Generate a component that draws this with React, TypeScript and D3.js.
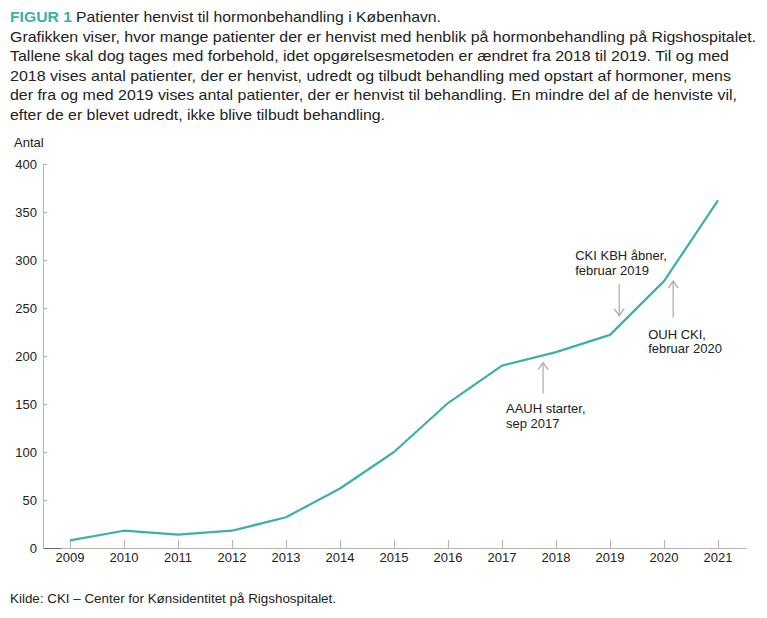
import React from "react";
import * as d3 from "d3";

const years = [2009, 2010, 2011, 2012, 2013, 2014, 2015, 2016, 2017, 2018, 2019, 2020, 2021];
const patients = [8, 18, 14, 18, 32, 62, 100, 151, 190, 204, 222, 278, 362];
const yTicks = [0, 50, 100, 150, 200, 250, 300, 350, 400];

const titleLines = [
  "Grafikken viser, hvor mange patienter der er henvist med henblik på hormonbehandling på Rigshospitalet.",
  "Tallene skal dog tages med forbehold, idet opgørelsesmetoden er ændret fra 2018 til 2019. Til og med",
  "2018 vises antal patienter, der er henvist, udredt og tilbudt behandling med opstart af hormoner, mens",
  "der fra og med 2019 vises antal patienter, der er henvist til behandling. En mindre del af de henviste vil,",
  "efter de er blevet udredt, ikke blive tilbudt behandling.",
];
const titleWidths = [746, 719, 721, 727, 375];

const annotations = [
  { x: 2017.76, from: 193, to: 161, lines: ["AAUH starter,", "sep 2017"], dir: "up", tx: -37, ty: 20 },
  { x: 2019.17, from: 275, to: 242, lines: ["CKI KBH åbner,", "februar 2019"], dir: "down", tx: -44, ty: -24 },
  { x: 2020.17, from: 240, to: 278, lines: ["OUH CKI,", "februar 2020"], dir: "up", tx: -25, ty: 21 },
];

const TEAL = "#3cb0aa";
const FONT = "'Liberation Sans', Arial, Helvetica, sans-serif";

export default function App() {
  const x = d3.scaleLinear().domain([2009, 2021]).range([70, 718]);
  const y = d3.scaleLinear().domain([0, 400]).range([548, 164]);
  const line = d3
    .line<number>()
    .x((_, i) => x(years[i]))
    .y((d) => y(d));

  return (
    <svg
      width={767}
      height={618}
      style={{ position: "absolute", left: 0, top: 0, background: "#fff" }}
      fontFamily={FONT}
    >
      {/* Title */}
      <text x={10} y={22} fontSize={15} fontWeight="bold" fill={TEAL} textLength={62} lengthAdjust="spacingAndGlyphs">
        FIGUR 1
      </text>
      <text x={76} y={22} fontSize={15} fill="#222" textLength={365} lengthAdjust="spacingAndGlyphs">
        Patienter henvist til hormonbehandling i København.
      </text>
      {titleLines.map((t, i) => (
        <text
          key={i}
          x={10}
          y={41.5 + i * 19.6}
          fontSize={15}
          fill="#222"
          textLength={titleWidths[i]}
          lengthAdjust="spacingAndGlyphs"
        >
          {t}
        </text>
      ))}

      {/* Y axis */}
      <text x={14} y={147} fontSize={13} fill="#222">Antal</text>
      <line x1={43.5} x2={43.5} y1={y(400)} y2={y(0)} stroke="#b5b5b5" strokeWidth={1} />
      {yTicks.map((t) => (
        <g key={t}>
          <line x1={43.5} x2={47} y1={y(t) + 0.5} y2={y(t) + 0.5} stroke="#b5b5b5" />
          <text x={37} y={y(t) + 4.5} fontSize={13} fill="#222" textAnchor="end">
            {t}
          </text>
        </g>
      ))}

      {/* X axis */}
      <line x1={43.5} x2={747} y1={y(0) + 0.5} y2={y(0) + 0.5} stroke="#b5b5b5" strokeWidth={1} />
      <line x1={43.5} x2={61} y1={y(0) + 0.5} y2={y(0) + 0.5} stroke="#666" strokeWidth={1} />
      {years.map((yr) => (
        <g key={yr}>
          <line x1={x(yr) + 0.5} x2={x(yr) + 0.5} y1={y(0)} y2={y(0) - 8} stroke="#b5b5b5" />
          <text x={x(yr)} y={562} fontSize={13} fill="#222" textAnchor="middle">
            {yr}
          </text>
        </g>
      ))}

      {/* Line */}
      <path d={line(patients) || ""} fill="none" stroke={TEAL} strokeWidth={2.2} strokeLinejoin="round" />

      {/* Annotations */}
      {annotations.map((a, i) => {
        const ax = x(a.x);
        const y1 = y(a.from);
        const y2 = y(a.to);
        const head = a.dir === "up" ? Math.min(y1, y2) : Math.max(y1, y2);
        const s = a.dir === "up" ? 1 : -1;
        const textBase = a.dir === "up" ? Math.max(y1, y2) : Math.min(y1, y2);
        return (
          <g key={i}>
            <line x1={ax} x2={ax} y1={y1} y2={y2} stroke="#a8a8a8" strokeWidth={1.2} />
            <polyline
              points={`${ax - 5},${head + s * 7} ${ax},${head} ${ax + 5},${head + s * 7}`}
              fill="none"
              stroke="#a8a8a8"
              strokeWidth={1.2}
            />
            {a.lines.map((l, j) => (
              <text key={j} x={ax + a.tx} y={textBase + a.ty + j * 14.5} fontSize={13} fill="#222">
                {l}
              </text>
            ))}
          </g>
        );
      })}

      {/* Source */}
      <text x={10} y={603} fontSize={13} fill="#222" textLength={326} lengthAdjust="spacingAndGlyphs">
        Kilde: CKI – Center for Kønsidentitet på Rigshospitalet.
      </text>
    </svg>
  );
}
